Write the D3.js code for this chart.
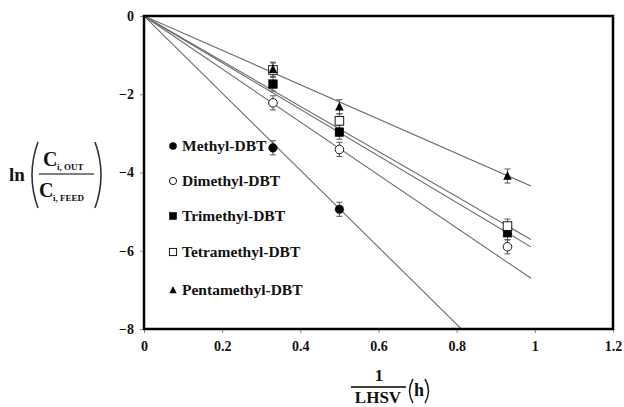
<!DOCTYPE html>
<html><head><meta charset="utf-8">
<script src="https://cdn.jsdelivr.net/npm/d3@7"></script>
<style>body{margin:0;background:#fff}svg{display:block}</style>
</head><body>
<svg id="c" width="624" height="407"></svg>
<script>
const seriesNames = ["Methyl-DBT","Dimethyl-DBT","Trimethyl-DBT","Tetramethyl-DBT","Pentamethyl-DBT"];
const xPoints = [0.33, 0.5, 0.93];
const methyl = [-3.37, -4.94, null];
const dimethyl = [-2.22, -3.41, -5.90];
const trimethyl = [-1.74, -2.97, -5.54];
const tetramethyl = [-1.38, -2.68, -5.37];
const pentamethyl = [-1.36, -2.32, -4.09];
const errorBars = [0.18, 0.18, 0.18];
const fitSlopes = [-9.85, -6.77, -5.96, -5.77, -4.39];
const fitEnd = 0.99;
const xTicks = [0, 0.2, 0.4, 0.6, 0.8, 1, 1.2];
const yTicks = [0, -2, -4, -6, -8];

const FONT = '"Liberation Serif", "DejaVu Serif", "Times New Roman", serif';
const allSeries = [methyl, dimethyl, trimethyl, tetramethyl, pentamethyl];
const symbols = ["fcircle","ocircle","fsquare","osquare","ftriangle"];

const svg = d3.select("#c");
const x = d3.scaleLinear().domain([0, 1.2]).range([144, 613]);
const y = d3.scaleLinear().domain([0, -8]).range([16, 329]);

svg.append("defs").append("clipPath").attr("id","pa")
  .append("rect").attr("x",144).attr("y",16).attr("width",469).attr("height",313);

function txt(g, xx, yy, s, size, anchor){
  return g.append("text").attr("x",xx).attr("y",yy).attr("font-size",size)
    .attr("font-family",FONT).attr("font-weight","bold").attr("fill","#111")
    .attr("text-anchor",anchor||"start").text(s);
}

// axes
const xAx = svg.append("g").attr("transform","translate(0,329)")
  .call(d3.axisBottom(x).tickValues(xTicks).tickFormat(d=>d3.format("")(d)).tickSize(4).tickPadding(8));
const yAx = svg.append("g").attr("transform","translate(144,0)")
  .call(d3.axisLeft(y).tickValues(yTicks).tickFormat(d=>d3.format("")(d)).tickSize(4).tickPadding(6));
[xAx,yAx].forEach(g=>{
  g.attr("font-family",FONT);
  g.select(".domain").remove();
  g.selectAll(".tick line").attr("stroke","#888");
  g.selectAll(".tick text").attr("font-size",14).attr("fill","#111")
   .attr("font-family",FONT).attr("font-weight","bold");
});

// fit lines
const plot = svg.append("g").attr("clip-path","url(#pa)");
fitSlopes.forEach(s=>{
  plot.append("line").attr("x1",x(0)).attr("y1",y(0)).attr("x2",x(fitEnd)).attr("y2",y(s*fitEnd))
    .attr("stroke","#6a6a6a").attr("stroke-width",1.1);
});

function drawSymbol(g, type, cx, cy, r){
  if(type==="fcircle"||type==="ocircle"){
    g.append("circle").attr("cx",cx).attr("cy",cy).attr("r",r)
      .attr("fill",type==="fcircle"?"#000":"#fff").attr("stroke","#000").attr("stroke-width",type==="ocircle"?0.9:0.5);
  } else if(type==="fsquare"||type==="osquare"){
    g.append("rect").attr("x",cx-r).attr("y",cy-r).attr("width",2*r).attr("height",2*r)
      .attr("fill",type==="fsquare"?"#000":"#fff").attr("stroke","#000").attr("stroke-width",type==="osquare"?0.9:0.5);
  } else {
    const h=r*1.1;
    g.append("path").attr("d",`M${cx},${cy-h}L${cx+r},${cy+h*0.8}L${cx-r},${cy+h*0.8}Z`).attr("fill","#000");
  }
}

// error bars and points
const pts = svg.append("g");
allSeries.forEach((vals,si)=>{
  vals.forEach((v,i)=>{
    if(v===null) return;
    const cx=x(xPoints[i]), e=errorBars[i];
    pts.append("line").attr("x1",cx).attr("x2",cx).attr("y1",y(v+e)).attr("y2",y(v-e)).attr("stroke","#555").attr("stroke-width",1);
    [v+e,v-e].forEach(t=>pts.append("line").attr("x1",cx-3).attr("x2",cx+3).attr("y1",y(t)).attr("y2",y(t)).attr("stroke","#555").attr("stroke-width",1));
  });
});
allSeries.forEach((vals,si)=>{
  vals.forEach((v,i)=>{
    if(v===null) return;
    drawSymbol(pts, symbols[si], x(xPoints[i]), y(v), 4.3);
  });
});

// frame
svg.append("rect").attr("x",144).attr("y",16).attr("width",469).attr("height",313)
  .attr("fill","none").attr("stroke","#000").attr("stroke-width",2.5);

// legend
const leg = svg.append("g");
const legY = [146, 181, 216, 252, 290];
seriesNames.forEach((n,i)=>{
  drawSymbol(leg, symbols[i], 173, legY[i], 3.6);
  txt(leg, 182, legY[i]+5, n, 15.5);
});

// y-axis label
const yl = svg.append("g");
txt(yl, 9, 181, "ln", 19);
yl.append("path").attr("d","M38,142 Q26,175 38,208").attr("fill","none").attr("stroke","#333").attr("stroke-width",1.6);
yl.append("path").attr("d","M95,142 Q107,175 95,208").attr("fill","none").attr("stroke","#333").attr("stroke-width",1.6);
txt(yl, 43, 166, "C", 20);
txt(yl, 57, 170, "i, OUT", 9);
yl.append("line").attr("x1",39).attr("x2",94).attr("y1",174).attr("y2",174).attr("stroke","#000").attr("stroke-width",1.2);
txt(yl, 39, 197, "C", 20);
txt(yl, 53, 201, "i, FEED", 9);

// x-axis label
const xl = svg.append("g");
txt(xl, 379, 381, "1", 17, "middle");
xl.append("line").attr("x1",351).attr("x2",406).attr("y1",387).attr("y2",387).attr("stroke","#000").attr("stroke-width",1.3);
txt(xl, 378, 403, "LHSV", 17, "middle");
xl.append("path").attr("d","M413,379 Q406,391 413,403").attr("fill","none").attr("stroke","#222").attr("stroke-width",1.5);
txt(xl, 414, 396, "h", 18);
xl.append("path").attr("d","M425,379 Q432,391 425,403").attr("fill","none").attr("stroke","#222").attr("stroke-width",1.5);
</script>
</body></html>
